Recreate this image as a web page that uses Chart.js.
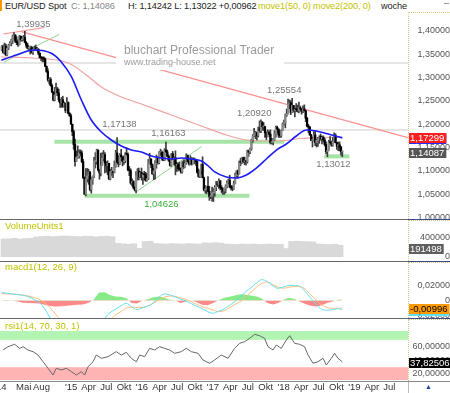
<!DOCTYPE html>
<html>
<head>
<meta charset="utf-8">
<script src="https://cdn.jsdelivr.net/npm/chart.js@4.4.1/dist/chart.umd.min.js"></script>
<style>
  body { margin: 0; background: #fff; }
  #wrap { position: relative; width: 450px; height: 393px; overflow: hidden; background: #fff;
          font-family: "Liberation Sans", Arial, sans-serif; }
  canvas { position: absolute; left: 0; }
  .t { position: absolute; white-space: nowrap; font-size: 9.5px; line-height: 12px; }
  .h { font-size: 9.2px; letter-spacing: -0.12px; }
  .sep { position: absolute; left: 0; width: 408px; height: 1px; background: #666; }
  .sepr { position: absolute; left: 408px; width: 42px; height: 1px; background: #3a4a8a; }
  .axbox { position: absolute; left: 408px; width: 42px; border-left: 1px dotted #d9c785; border-top: 1px dotted #d9c785; box-sizing: border-box; }
  .ttl { color: #c3c300; }
</style>
</head>
<body>
<div id="wrap">
  <canvas id="cMain" width="450" height="207" style="top:12px"></canvas>
  <canvas id="cVol" width="450" height="41" style="top:220px"></canvas>
  <canvas id="cMacd" width="450" height="56" style="top:262px"></canvas>
  <canvas id="cRsi" width="450" height="74" style="top:319px"></canvas>

  <!-- header line -->
  <div style="position:absolute;left:0;top:0;width:2px;height:11px;background:#f90"></div>
  <span class="t h" style="left:5px;top:0;color:#222">EUR/USD Spot</span>
  <span class="t h" style="left:71px;top:0;color:#888">C: 1,14086</span>
  <span class="t h" style="left:128px;top:0;color:#222">H: 1,14242 L: 1,13022 +0,00962</span>
  <span class="t h ttl" style="left:258px;top:0">move1(50, 0) move2(200, 0)</span>
  <span class="t h" style="left:381px;top:0;color:#222">woche</span>
  <div style="position:absolute;left:444px;top:3px;width:5px;height:1px;background:#999"></div>

  <!-- right axis frames -->
  <div class="axbox" style="top:12px;height:207px"></div>
  <div class="axbox" style="top:220px;height:41px"></div>
  <div class="axbox" style="top:262px;height:56px"></div>
  <div class="axbox" style="top:319px;height:62px"></div>
  <div style="position:absolute;left:408px;top:382px;width:42px;height:11px;border-left:1px solid #bbb;box-sizing:border-box"></div>
  <span class="t" style="left:425px;top:381px;color:#2244aa;font-size:7px">&#9650;</span>

  <!-- panel separators -->
  <div class="sep" style="top:219px"></div><div class="sepr" style="top:219px"></div>
  <div class="sep" style="top:261px"></div><div class="sepr" style="top:261px"></div>
  <div class="sep" style="top:318px"></div><div class="sepr" style="top:318px"></div>
  <div class="sep" style="top:381px;background:#888"></div><div class="sepr" style="top:381px;background:#888"></div>

  <!-- panel titles -->
  <span class="t ttl" style="left:5px;top:220px">VolumeUnits1</span>
  <span class="t ttl" style="left:5px;top:261px">macd1(12, 26, 9)</span>
  <span class="t ttl" style="left:5px;top:320px">rsi1(14, 70, 30, 1)</span>
</div>

<script>
// weekly EUR/USD bars, index 0 = week of 6 Jan 2014, last = running week of 29 Oct 2018
const firstOpen = 1.3590;

const closes = [
  // 2014
  1.3670,1.3540,1.3680,1.3485, 1.3635,1.3690,1.3740,1.3805, 1.3875,1.3910,1.3780,1.3750,
  1.3705,1.3885,1.3810,1.3830, 1.3870,1.3755,1.3695,1.3630,1.3635, 1.3645,1.3540,1.3605,1.3645,
  1.3595,1.3605,1.3525,1.3430, 1.3425,1.3410,1.3400,1.3240,1.3130, 1.2950,1.2960,1.2830,1.2685,
  1.2520,1.2630,1.2760,1.2670,1.2525, 1.2455,1.2525,1.2390,1.2450, 1.2290,1.2465,1.2230,1.2180,
  // 2015
  1.2000,1.1840,1.1565,1.1205,1.1290, 1.1315,1.1390,1.1380,1.1195, 1.0845,1.0495,1.0825,1.0890,
  1.0970,1.0600,1.0810,1.0875, 1.1200,1.1200,1.1445,1.1015,1.0955, 1.1110,1.1265,1.1350,1.1165,
  1.1105,1.1160,1.0830,1.0980,1.0985, 1.0965,1.1105,1.1385,1.1180, 1.1145,1.1340,1.1300,1.1195,
  1.1215,1.1360,1.1350,1.1020,1.1005, 1.0740,1.0770,1.0645,1.0590, 1.0880,1.0990,1.0870,1.0965,
  // 2016
  1.0860,1.0920,1.0915,1.0795,1.0830, 1.1155,1.1255,1.1130,1.0935, 1.1000,1.1150,1.1270,1.1170,
  1.1390,1.1400,1.1285,1.1225,1.1450, 1.1405,1.1310,1.1225,1.1115, 1.1365,1.1250,1.1280,1.1115,
  1.1135,1.1050,1.1040,1.0975,1.1175, 1.1085,1.1165,1.1325,1.1200, 1.1155,1.1235,1.1155,1.1225,1.1240,
  1.1200,1.0970,1.0880,1.0985, 1.1140,1.0850,1.0590,1.0590, 1.0665,1.0560,1.0450,1.0455,1.0520,
  // 2017
  1.0530,1.0645,1.0705,1.0695, 1.0785,1.0640,1.0615,1.0560, 1.0620,1.0670,1.0735,1.0800,1.0650,
  1.0640,1.0615,1.0725,1.0895, 1.0995,1.0930,1.1205,1.1180, 1.1280,1.1195,1.1200,1.1195,1.1425,
  1.1400,1.1470,1.1665,1.1750, 1.1775,1.1820,1.1760,1.1925, 1.1860,1.2035,1.1945,1.1950,1.1815,
  1.1730,1.1820,1.1785,1.1605, 1.1610,1.1665,1.1795,1.1935, 1.1895,1.1770,1.1750,1.1860,1.2005,
  // 2018
  1.2030,1.2200,1.2220,1.2425, 1.2460,1.2255,1.2405,1.2295, 1.2320,1.2310,1.2285,1.2350,1.2325,
  1.2280,1.2330,1.2290,1.2130, 1.1960,1.1940,1.1770,1.1655, 1.1660,1.1770,1.1605,1.1655,1.1685,
  1.1745,1.1685,1.1720,1.1660, 1.1565,1.1410,1.1440,1.1620,1.1600, 1.1550,1.1625,1.1755,1.1605,
  1.1525,1.1560,1.1510,1.1405, 1.14087
];

const highs = [
  1.3685,1.3700,1.3740,1.3720, 1.3645,1.3715,1.3775,1.3825, 1.3915,1.3965,1.3925,1.3875,
  1.3810,1.3905,1.3895,1.3875, 1.3905,1.3993,1.3775,1.3735,1.3650, 1.3675,1.3675,1.3645,1.3675,
  1.3700,1.3650,1.3625,1.3530, 1.3445,1.3445,1.3445,1.3420,1.3250, 1.3190,1.2995,1.3000,1.2860,
  1.2705,1.2790,1.2885,1.2790,1.2750, 1.2530,1.2575,1.2600,1.2475, 1.2455,1.2570,1.2480,1.2250,

  1.2215,1.2000,1.1870,1.1680,1.1425, 1.1535,1.1450,1.1450,1.1430, 1.1245,1.0870,1.1045,1.1050,
  1.1035,1.0990,1.0850,1.0890, 1.1290,1.1390,1.1465,1.1445,1.1035, 1.1380,1.1385,1.1435,1.1390,
  1.1200,1.1215,1.1160,1.1030,1.1075, 1.0995,1.1210,1.1440,1.1714, 1.1330,1.1370,1.1460,1.1300,
  1.1320,1.1390,1.1495,1.1385,1.1095, 1.1045,1.0830,1.0790,1.0660, 1.0985,1.1045,1.1060,1.0990,

  1.1060,1.0940,1.0990,1.0970,1.0945, 1.1245,1.1375,1.1255,1.1150, 1.1055,1.1220,1.1340,1.1300,
  1.1410,1.1465,1.1430,1.1400,1.1475, 1.1616,1.1445,1.1345,1.1250, 1.1375,1.1415,1.1300,1.1428,
  1.1185,1.1165,1.1185,1.1060,1.1200, 1.1235,1.1235,1.1365,1.1340, 1.1240,1.1325,1.1285,1.1280,1.1275,
  1.1250,1.1215,1.1040,1.1000, 1.1145,1.1300,1.0865,1.0685, 1.0670,1.0875,1.0670,1.0485,1.0650,

  1.0620,1.0685,1.0775,1.0775, 1.0830,1.0790,1.0680,1.0630, 1.0630,1.0700,1.0785,1.0825,1.0905,
  1.0690,1.0680,1.0780,1.0950, 1.1000,1.1020,1.1210,1.1270, 1.1285,1.1295,1.1295,1.1225,1.1445,
  1.1445,1.1490,1.1680,1.1775, 1.1910,1.1845,1.1830,1.1940, 1.2070,1.2092,1.2060,1.2035,1.1950,
  1.1835,1.1880,1.1860,1.1880, 1.1690,1.1690,1.1860,1.1960, 1.1960,1.1900,1.1860,1.1880,1.2030,

  1.2090,1.2220,1.2325,1.2537, 1.2520,1.2505,1.2555,1.2405, 1.2345,1.2445,1.2410,1.2475,1.2390,
  1.2345,1.2395,1.2415,1.2295, 1.2150,1.1995,1.1950,1.1785, 1.1725,1.1840,1.1850,1.1675,1.1720,
  1.1750,1.1790,1.1745,1.1750, 1.1700,1.1620,1.1445,1.1655,1.1735, 1.1640,1.1720,1.1815,1.1795,
  1.1610,1.1620,1.1620,1.1525, 1.1424
];

const lows = [
  1.3575,1.3525,1.3505,1.3475, 1.3475,1.3600,1.3685,1.3680, 1.3730,1.3825,1.3750,1.3705,
  1.3670,1.3700,1.3775,1.3780, 1.3800,1.3745,1.3650,1.3615,1.3585, 1.3505,1.3525,1.3500,1.3585,
  1.3580,1.3575,1.3490,1.3420, 1.3365,1.3335,1.3340,1.3240,1.3110, 1.2920,1.2860,1.2815,1.2680,
  1.2500,1.2500,1.2625,1.2615,1.2480, 1.2360,1.2360,1.2360,1.2380, 1.2245,1.2290,1.2220,1.2165,

  1.2000,1.1755,1.1460,1.1100,1.1200, 1.1270,1.1270,1.1315,1.1175, 1.0840,1.0495,1.0463,1.0760,
  1.0710,1.0570,1.0520,1.0710, 1.0850,1.1060,1.1140,1.1000,1.0820, 1.0890,1.1110,1.1210,1.0955,
  1.0970,1.0915,1.0810,1.0805,1.0890, 1.0850,1.0955,1.1075,1.1160, 1.1085,1.1135,1.1215,1.1105,
  1.1135,1.1175,1.1335,1.1000,1.0895, 1.0710,1.0675,1.0615,1.0565, 1.0525,1.0800,1.0805,1.0850,

  1.0800,1.0710,1.0805,1.0775,1.0775, 1.0810,1.1150,1.1065,1.0920, 1.0810,1.0820,1.1055,1.1145,
  1.1145,1.1330,1.1230,1.1215,1.1215, 1.1385,1.1300,1.1200,1.1100, 1.1095,1.1250,1.1130,1.0912,
  1.0985,1.1000,1.1010,1.0950,1.0950, 1.1045,1.1070,1.1140,1.1185, 1.1120,1.1135,1.1120,1.1150,1.1150,
  1.1115,1.0950,1.0860,1.0855, 1.0935,1.0850,1.0570,1.0520, 1.0505,1.0545,1.0365,1.0405,1.0350,

  1.0341,1.0455,1.0575,1.0660, 1.0620,1.0590,1.0525,1.0495, 1.0495,1.0525,1.0630,1.0720,1.0635,
  1.0590,1.0570,1.0600,1.0720, 1.0850,1.0840,1.0930,1.1110, 1.1160,1.1170,1.1130,1.1120,1.1165,
  1.1310,1.1370,1.1440,1.1610, 1.1730,1.1690,1.1660,1.1725, 1.1825,1.1820,1.1870,1.1865,1.1715,
  1.1670,1.1730,1.1730,1.1575, 1.1575,1.1555,1.1650,1.1720, 1.1815,1.1715,1.1715,1.1720,1.1860,

  1.1980,1.1920,1.2165,1.2220, 1.2335,1.2205,1.2250,1.2260, 1.2155,1.2270,1.2260,1.2240,1.2280,
  1.2215,1.2250,1.2280,1.2055, 1.1940,1.1820,1.1760,1.1645, 1.1510,1.1640,1.1540,1.1510,1.1525,
  1.1590,1.1655,1.1575,1.1620, 1.1530,1.1365,1.1301,1.1440,1.1580, 1.1525,1.1530,1.1610,1.1595,
  1.1460,1.1430,1.1430,1.1335, 1.1302
];

// moving averages (week index, price)
const ma50Weeks  = [0, 11, 24.3, 36.8, 44.2, 51.6, 59, 66.3, 73.7, 81, 88.4, 95.8, 103.2, 110.5, 117.9, 125.3, 132.6,
                    140, 147.4, 152.5, 157, 165.8, 173.2, 180.5, 187.9, 195.3, 202.7, 210, 217.4, 224.8, 232.1, 239.5, 251.3];
const ma50Values = [1.3370, 1.3485, 1.3592, 1.3521, 1.3335, 1.3019, 1.2519, 1.2090, 1.1833, 1.1661, 1.1532, 1.1446, 1.1403,
                    1.1318, 1.1275, 1.1253, 1.1275, 1.1253, 1.1210, 1.1103, 1.0981, 1.0867, 1.0846, 1.0910, 1.1060, 1.1253,
                    1.1446, 1.1575, 1.1747, 1.1876, 1.1854, 1.1800, 1.1705];
const ma200Weeks  = [0, 22, 49.4, 62.6, 73.7, 88.4, 103.2, 125.3, 147.4, 165.8, 180.5, 195.3, 208.5, 221, 235.8, 251.3];
const ma200Values = [1.3442, 1.3421, 1.3313, 1.3056, 1.2798, 1.2584, 1.2433, 1.2197, 1.1961, 1.1768, 1.1661, 1.1639,
                     1.1650, 1.1693, 1.1715, 1.17299];

// drawing tools
const redTrendWeeks = [14.7, 299.7], redTrendPrices = [1.3985, 1.1712];
const redTopWeeks = [1.5, 31.7],     redTopPrices = [1.3936, 1.4075];
const greenTrendAWeeks = [1.5, 42.7],   greenTrendAPrices = [1.3326, 1.3927];
const greenTrendBWeeks = [99.5, 147.4], greenTrendBPrices = [1.0552, 1.1517];
const bandStartWeeks = [39.1, 61.2, 238.0];
const bandEndWeeks   = [208.5, 182.8, 256.5];
const bandPrices     = [1.1625, 1.0465, 1.1310];
const hLinePrices = [1.3313, 1.1876];

const labelTexts  = ['1,39935', '1,17138', '1,16163', '1,04626', '1,20920', '1,25554', '1,13012'];
const labelWeeks  = [23.6, 87.0, 123.1, 117.9, 186.4, 208.5, 244.7];
const labelPrices = [1.4150, 1.2004, 1.1811, 1.0288, 1.2240, 1.2734, 1.1146];
const labelColors = ['#777', '#777', '#777', '#3aae3a', '#777', '#777', '#777'];

const priceTicks = [1.00, 1.05, 1.10, 1.15, 1.20, 1.25, 1.30, 1.35, 1.40];

// volume, 4-week blocks
const volume = [
  385000, 390000, 400000, 385000, 395000, 400000,
  430000, 440000, 445000, 435000, 440000, 450000, 445000, 440000, 435000, 445000, 440000, 430000, 440000, 445000, 435000,
  295000, 285000, 275000, 285000, 190000, 335000, 340000,
  290000, 285000, 280000, 290000, 285000, 280000, 290000, 285000, 280000,
  305000, 300000, 310000, 300000,
  280000, 275000, 270000, 280000, 275000, 280000, 270000, 275000, 280000, 275000, 275000,
  185000, 335000, 340000, 335000, 330000, 325000,
  280000, 275000, 270000, 275000, 255000
];
const volLast = 191498;
const volTicks = [0, 400000];

// MACD (12, 26, 9)
const macdWeeks = [0,4,8,12,16,20,24,28,32,36,40,44,48,52,56,60,64,68,72,76,80,84,88,92,96,100,104,108,112,116,
                   120,124,128,132,136,140,144,148,152,156,160,164,168,172,176,180,184,188,192,196,200,204,208,212,
                   216,220,224,228,232,236,240,244,248,251];
const macdLine = [
  0.0105,0.0098,0.0088,0.0078,0.0070,0.0050,0.0015,-0.0025,-0.0110,-0.0230,
  -0.0320,-0.0380,-0.0420,-0.0460,-0.0520,-0.0560,-0.0580,-0.0520,-0.0400,-0.0240,
  -0.0160,-0.0115,-0.0070,-0.0035,-0.0080,-0.0120,-0.0095,-0.0070,-0.0030,0.0040,
  0.0087,0.0075,0.0050,0.0020,-0.0005,-0.0040,-0.0075,-0.0105,-0.0145,-0.0165,
  -0.0140,-0.0110,-0.0065,-0.0014,0.0045,0.0115,0.0170,0.0230,0.0275,0.0250,
  0.0195,0.0161,0.0180,0.0200,0.0200,0.0185,0.0120,0.0030,-0.0045,-0.0114,
  -0.0125,-0.0120,-0.0105,-0.0118
];
const macdSignal = [
  0.0090,0.0088,0.0085,0.0080,0.0072,0.0060,0.0040,0.0015,-0.0030,-0.0095,
  -0.0180,-0.0260,-0.0320,-0.0370,-0.0420,-0.0470,-0.0510,-0.0520,-0.0480,-0.0380,
  -0.0270,-0.0190,-0.0146,-0.0100,-0.0085,-0.0090,-0.0088,-0.0070,-0.0035,0.0008,
  0.0045,0.0060,0.0055,0.0035,0.0015,-0.0015,-0.0050,-0.0080,-0.0100,-0.0125,
  -0.0145,-0.0135,-0.0095,-0.0050,-0.0015,0.0050,0.0110,0.0175,0.0225,0.0245,
  0.0210,0.0175,0.0163,0.0175,0.0185,0.0183,0.0150,0.0080,0.0005,-0.0055,
  -0.0090,-0.0102,-0.0100,-0.00996
];
const macdHist = [
  -0.0003,-0.0005,0.0000,-0.0011,-0.0028,-0.0033,-0.0035,-0.0039,-0.0055,-0.0072,
  -0.0078,-0.0075,-0.0066,-0.0061,-0.0055,-0.0050,-0.0033,0.0011,0.0105,0.0110,
  0.0072,0.0055,0.0050,0.0033,-0.0033,-0.0039,0.0000,0.0017,0.0044,0.0055,
  0.0039,0.0011,0.0006,-0.0033,-0.0011,0.0006,-0.0022,-0.0055,-0.0061,-0.0033,
  0.0006,0.0033,0.0050,0.0066,0.0083,0.0077,0.0066,0.0055,0.0028,-0.0033,
  -0.0052,-0.0033,0.0011,0.0039,0.0022,-0.0011,-0.0044,-0.0066,-0.0077,-0.0061,
  -0.0033,-0.0011,0.0011,0.0013
];
const macdTicks = [-0.02, 0, 0.02];

// RSI (14)
const rsiWeeks = [1.3,4.9,9.8,13.5,16.0,19.7,23.4,27.0,30.7,34.4, 38.1,40.5,44.2,47.9,51.6,55.3,59.0,61.4,63.9,67.6,
                  70.0,73.7,78.6,84.7,88.4,92.1,95.8,99.5,101.9,105.6, 109.3,113.0,116.7,120.3,124.0,127.7,132.6,136.3,140.0,145.0,
                  148.6,153.5,157.2,162.1,167.1,171.9,175.6,179.3,183.0,186.7, 190.3,194.0,196.5,200.2,202.7,206.3,210.0,212.5,216.1,219.8,
                  223.5,226.0,229.7,233.4,237.1,239.5,243.2,245.6,248.1,251.3];
const rsiValues = [55.2,60,63.5,57.6,60,55,52.7,47.8,38,28.4, 18.5,28.4,25.9,28.4,23.4,18.5,23.4,18.5,30.7,38,
                   47.8,43,45.4,52.7,47.8,51.8,43,38,47.8,45.4, 57.6,55.2,60,57.6,55.2,50.3,52.7,57.6,52.7,50.3,
                   40.5,35.7,40.5,47.8,43,57.6,65,67.3,72.3,78.2, 76.1,72.3,60,55.2,62.5,57.6,69.8,76.1,65,63.5,
                   60,47.8,35.7,38,43,33.2,43,50.3,43,37.82506];
const rsiUpper = 70, rsiLower = 30;
const rsiTicks = [20, 40, 60];

// time axis
const xTickDates = ['2014-01-01','2014-05-01','2014-08-01','2015-01-01','2015-04-01','2015-07-01','2015-10-01',
                    '2016-01-01','2016-04-01','2016-07-01','2016-10-01','2017-01-01','2017-04-01','2017-07-01','2017-10-01',
                    '2018-01-01','2018-04-01','2018-07-01','2018-10-01','2019-01-01','2019-04-01','2019-07-01'];
const xTickLabels = ["'14",'Mai','Aug',"'15",'Apr','Jul','Okt',"'16",'Apr','Jul','Okt',"'17",'Apr','Jul','Okt',
                     "'18",'Apr','Jul','Okt',"'19",'Apr','Jul'];

if (highs.length !== closes.length || lows.length !== closes.length) {
  throw new Error('bar arrays differ: ' + closes.length + ' ' + highs.length + ' ' + lows.length);
}

const t0 = Date.UTC(2014, 0, 6);
const xTickWeeks = xTickDates.map(d => (Date.parse(d) - t0) / (7 * 864e5));
const xMin = -1, xMax = 299.7;

const comma = v => v.toFixed(5).replace('.', ',');
const pts = (xs, ys) => xs.map((x, i) => ({x: x, y: ys[i]}));

Chart.defaults.font.family = '"Liberation Sans", Arial, sans-serif';
Chart.defaults.font.size = 9;
Chart.defaults.animation = false;
Chart.defaults.events = [];

function rightAxis(min, max, ticks, fmt) {
  return {
    position: 'right', min: min, max: max,
    grid: {display: false, drawTicks: false}, border: {display: false},
    afterBuildTicks: s => { s.ticks = ticks.map(v => ({value: v})); },
    afterFit: s => { s.width = 42; s.paddingTop = 0; s.paddingBottom = 0; },
    ticks: {color: '#555', padding: 0, crossAlign: 'far', autoSkip: false, callback: fmt}
  };
}
const hiddenX = {type: 'linear', min: xMin, max: xMax, display: false, offset: false};

function baseOptions(scales, extra) {
  return Object.assign({
    responsive: false, devicePixelRatio: 1,
    layout: {padding: 0},
    elements: {point: {radius: 0}, line: {borderJoinStyle: 'round'}},
    plugins: {legend: {display: false}, tooltip: {enabled: false}},
    scales: scales
  }, extra || {});
}

// value boxes on the right axis
function boxPlugin(items) {
  return {
    id: 'axisBoxes',
    afterDraw(chart) {
      const {ctx, chartArea, scales} = chart;
      ctx.save();
      ctx.font = '9.5px "Liberation Sans", Arial, sans-serif';
      ctx.textBaseline = 'middle';
      ctx.textAlign = 'left';
      items.forEach(b => {
        const py = Math.round(scales.y.getPixelForValue(b.value)) + 1;
        const w = ctx.measureText(b.text).width + 3;
        ctx.fillStyle = b.bg;
        ctx.fillRect(chartArea.right + 1, py - 5, w, 10);
        ctx.fillStyle = b.fg;
        ctx.fillText(b.text, chartArea.right + 2, py + 0.5);
      });
      ctx.restore();
    }
  };
}

// ---------- main price panel ----------
const opens = closes.map((c, i) => i === 0 ? firstOpen : closes[i - 1]);
const wicks = closes.map((c, i) => ({x: i + 0.3, y: [lows[i], highs[i]]}));
const bodies = closes.map((c, i) => ({x: i + 0.3, y: [opens[i], c]}));
const bodyColors = closes.map((c, i) => c >= opens[i] ? '#8a8a8a' : '#000');

const line = (data, color, width, order, extra) => Object.assign({
  type: 'line', data: data, borderColor: color, borderWidth: width, order: order, fill: false
}, extra || {});

const mainSets = [
  line(pts(ma50Weeks, ma50Values), '#1b1bff', 1.6, 0, {cubicInterpolationMode: 'monotone'}),
  {data: bodies, backgroundColor: bodyColors, barThickness: 1.6, minBarLength: 1, grouped: false, order: 1},
  {data: wicks, backgroundColor: '#3c3c3c', barThickness: 1, grouped: false, order: 2},
  line(pts(ma200Weeks, ma200Values), '#f2a2a2', 1.2, 3, {cubicInterpolationMode: 'monotone'}),
  line(pts(redTrendWeeks, redTrendPrices), '#ff8f8f', 1.2, 4),
  line(pts(redTopWeeks, redTopPrices), '#ff8f8f', 1.2, 4),
  line(pts(greenTrendAWeeks, greenTrendAPrices), '#8ed88e', 1, 4),
  line(pts(greenTrendBWeeks, greenTrendBPrices), '#8ed88e', 1, 4)
];
bandPrices.forEach((p, i) => {
  mainSets.push(line([{x: bandStartWeeks[i], y: p}, {x: bandEndWeeks[i], y: p}], '#a6e3a6', 4, 5));
});
hLinePrices.forEach(p => {
  mainSets.push(line([{x: xMin, y: p}, {x: xMax, y: p}], '#cdcdcd', 1, 6));
});

const watermark = {
  id: 'watermark',
  afterDatasetsDraw(chart) {
    const ctx = chart.ctx;
    ctx.save();
    ctx.fillStyle = '#fff';
    ctx.fillRect(116, 22, 168, 36);
    ctx.fillStyle = '#9c9c9c';
    ctx.textAlign = 'left';
    ctx.textBaseline = 'alphabetic';
    ctx.font = '12px "Liberation Sans", Arial, sans-serif';
    ctx.fillText('bluchart Professional Trader', 124, 41.5);
    ctx.font = '9px "Liberation Sans", Arial, sans-serif';
    ctx.fillText('www.trading-house.net', 124, 52.5);
    ctx.restore();
  }
};

const valueLabels = {
  id: 'valueLabels',
  afterDatasetsDraw(chart) {
    const {ctx, scales} = chart;
    ctx.save();
    ctx.font = '9.5px "Liberation Sans", Arial, sans-serif';
    ctx.textAlign = 'center';
    ctx.textBaseline = 'middle';
    labelTexts.forEach((t, i) => {
      ctx.fillStyle = labelColors[i];
      ctx.fillText(t, scales.x.getPixelForValue(labelWeeks[i]), scales.y.getPixelForValue(labelPrices[i]));
    });
    ctx.restore();
  }
};

const lastMa50 = ma50Values[ma50Values.length - 1];
const lastMa200 = ma200Values[ma200Values.length - 1];
const lastClose = closes[closes.length - 1];

new Chart(document.getElementById('cMain'), {
  type: 'bar',
  data: {datasets: mainSets},
  options: baseOptions({x: hiddenX, y: rightAxis(0.996567, 1.440773, priceTicks, v => comma(v))}),
  plugins: [watermark, valueLabels, boxPlugin([
    {value: lastMa50, text: comma(lastMa50), bg: '#2a2aff', fg: '#fff'},
    {value: lastMa200, text: comma(lastMa200), bg: '#ff1f1f', fg: '#fff'},
    {value: lastClose, text: comma(lastClose), bg: '#555', fg: '#fff'}
  ])]
});

// ---------- volume ----------
new Chart(document.getElementById('cVol'), {
  type: 'bar',
  data: {datasets: [{
    data: volume.map((v, k) => ({x: k * 4 + 1.8, y: v})),
    backgroundColor: '#d9d9d9', barPercentage: 1.15, categoryPercentage: 1, grouped: false
  }]},
  options: baseOptions({x: hiddenX, y: rightAxis(-84212, 778961, volTicks, v => String(v))}),
  plugins: [boxPlugin([{value: volLast, text: String(volLast), bg: '#5f5f5f', fg: '#fff'}])]
});

// ---------- MACD ----------
new Chart(document.getElementById('cMacd'), {
  type: 'line',
  data: {datasets: [
    line(pts(macdWeeks, macdLine), '#63def2', 1, 0, {cubicInterpolationMode: 'monotone'}),
    line(pts(macdWeeks, macdSignal), '#ffbd7a', 1, 1, {cubicInterpolationMode: 'monotone'}),
    line(pts(macdWeeks, macdHist), 'rgba(0,0,0,0)', 0, 2,
         {fill: {target: 'origin', above: '#86ea86', below: '#ff8888'}})
  ]},
  options: baseOptions({x: hiddenX, y: rightAxis(-0.022835, 0.050656, macdTicks, v => v === 0 ? '0' : comma(v))}),
  plugins: [boxPlugin([
    {value: macdLine[macdLine.length - 1], text: comma(macdLine[macdLine.length - 1]), bg: '#63def2', fg: '#000'},
    {value: macdSignal[macdSignal.length - 1], text: comma(macdSignal[macdSignal.length - 1]), bg: '#ff9900', fg: '#000'}
  ])]
});

// ---------- RSI + time axis ----------
const rsiBands = {
  id: 'rsiBands',
  beforeDatasetsDraw(chart) {
    const {ctx, chartArea: a, scales} = chart;
    const yUp = scales.y.getPixelForValue(rsiUpper);
    const yLo = scales.y.getPixelForValue(rsiLower);
    ctx.save();
    ctx.fillStyle = '#b2f5b2';
    ctx.fillRect(a.left, a.top, a.width, yUp - a.top);
    ctx.fillStyle = '#ffb4b4';
    ctx.fillRect(a.left, yLo, a.width, a.bottom - yLo);
    ctx.restore();
  }
};

new Chart(document.getElementById('cRsi'), {
  type: 'line',
  data: {datasets: [line(pts(rsiWeeks, rsiValues), '#666', 1, 0)]},
  options: baseOptions({
    x: {
      type: 'linear', min: xMin, max: xMax, offset: false,
      grid: {display: false, drawTicks: false}, border: {display: false},
      afterBuildTicks: s => { s.ticks = xTickWeeks.map(v => ({value: v})); },
      afterFit: s => { s.height = 13; s.paddingLeft = 0; s.paddingRight = 0; },
      ticks: {autoSkip: false, maxRotation: 0, padding: 2, color: '#333', font: {size: 9.5},
              callback: (v, i) => xTickLabels[i]}
    },
    y: rightAxis(11.209, 83.004, rsiTicks, v => comma(v))
  }, {layout: {padding: {top: 12}}}),
  plugins: [rsiBands, boxPlugin([{value: rsiValues[rsiValues.length - 1], text: comma(rsiValues[rsiValues.length - 1]), bg: '#000', fg: '#fff'}])]
});
</script>
</body>
</html>
